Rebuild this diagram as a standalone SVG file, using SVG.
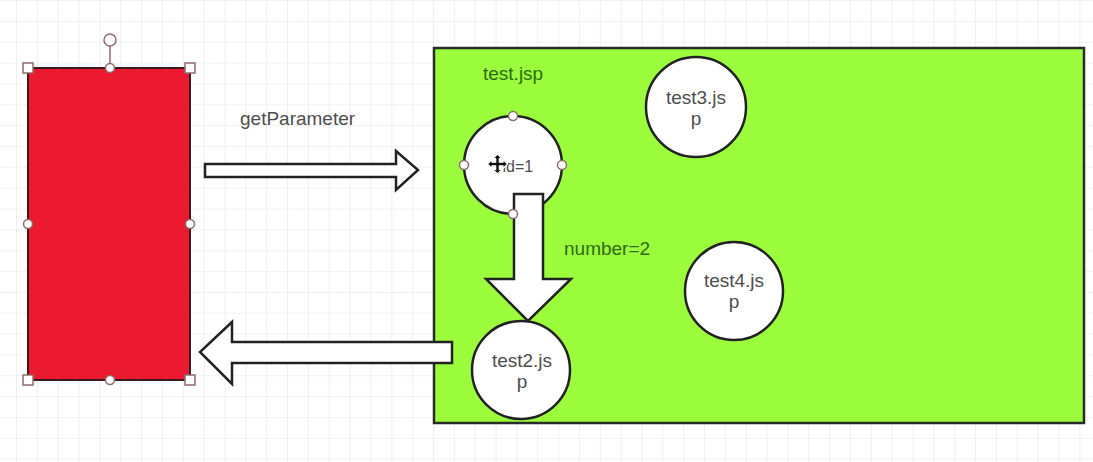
<svg xmlns="http://www.w3.org/2000/svg" width="1093" height="462" viewBox="0 0 1093 462">
  <defs>
    <pattern id="grid" width="20.85" height="20.85" patternUnits="userSpaceOnUse" x="16" y="0">
      <path d="M 0 0 L 20.85 0 M 0 0 L 0 20.85" fill="none" stroke="#e4e4e4" stroke-width="1.2"/>
    </pattern>
    <style>
      .lbl { font-family: "Liberation Sans", Arial, sans-serif; font-size: 19px; fill: #4d4d4d; }
      .glbl { font-family: "Liberation Sans", Arial, sans-serif; font-size: 19px; fill: #2d6b14; }
      .node { fill: #ffffff; stroke: #222222; stroke-width: 2.5; }
      .arrow { fill: #ffffff; stroke: #222222; stroke-width: 2.5; stroke-linejoin: miter; }
      .hsq { fill: #ffffff; stroke: #8c6c6c; stroke-width: 1.5; }
      .hci { fill: #ffffff; stroke: #8c6c6c; stroke-width: 1.5; }
    </style>
  </defs>
  <rect x="0" y="0" width="1093" height="462" fill="#ffffff"/>
  <rect x="0" y="0" width="1093" height="462" fill="url(#grid)"/>

  <g id="container">
    <rect x="434" y="48" width="650" height="375" fill="#9bfd3c" stroke="#2b2b2b" stroke-width="2.5"/>
    <text class="glbl" x="483" y="80">test.jsp</text>
  </g>

  <g id="node-test1">
    <circle class="node" cx="513" cy="165" r="49"/>
    <text class="lbl" x="502.5" y="171.5" style="font-size:16px">id=1</text>
  </g>

  <g id="node-test3">
    <circle class="node" cx="696" cy="107" r="50"/>
    <text class="lbl" x="696" y="104" text-anchor="middle">test3.js</text>
    <text class="lbl" x="696" y="125" text-anchor="middle">p</text>
  </g>

  <g id="node-test4">
    <circle class="node" cx="734" cy="291" r="49"/>
    <text class="lbl" x="734" y="287" text-anchor="middle">test4.js</text>
    <text class="lbl" x="734" y="308" text-anchor="middle">p</text>
  </g>

  <g id="node-test2">
    <circle class="node" cx="521" cy="370" r="49"/>
    <text class="lbl" x="522" y="367" text-anchor="middle">test2.js</text>
    <text class="lbl" x="522" y="388" text-anchor="middle">p</text>
  </g>

  <g id="connectors">
    <polygon class="arrow" points="205,164 396,164 396,151 418,170 396,190 396,177 205,177"/>
    <text class="lbl" x="240" y="125">getParameter</text>
    <polygon class="arrow" points="514,194 543,194 543,279 571,279 528,321 486,279 514,279"/>
    <text class="glbl" x="564" y="255">number=2</text>
    <polygon class="arrow" points="452,342 232,342 232,322 200,352 232,384 232,363 452,363"/>
  </g>

  <g id="selection-test1">
    <circle class="hci" cx="513" cy="116" r="4.5"/>
    <circle class="hci" cx="464" cy="165" r="4.5"/>
    <circle class="hci" cx="562" cy="165" r="4.5"/>
    <circle class="hci" cx="513" cy="214" r="4.5"/>
    <polygon transform="translate(497.5,164)" fill="#111111" stroke="#ffffff" stroke-width="1.2" stroke-linejoin="round" points="0,-10 4.5,-5.5 1.8,-5.5 1.8,-1.8 5.5,-1.8 5.5,-4.5 10,0 5.5,4.5 5.5,1.8 1.8,1.8 1.8,5.5 4.5,5.5 0,10 -4.5,5.5 -1.8,5.5 -1.8,1.8 -5.5,1.8 -5.5,4.5 -10,0 -5.5,-4.5 -5.5,-1.8 -1.8,-1.8 -1.8,-5.5 -4.5,-5.5"/>
  </g>

  <g id="node-client">
    <rect x="28" y="68" width="162" height="312" fill="#ec1a30" stroke="#3a1a1a" stroke-width="2"/>
    <line x1="110" y1="68" x2="110" y2="46" stroke="#8c6c6c" stroke-width="1.5"/>
    <circle class="hci" cx="110" cy="40" r="6"/>
    <rect class="hsq" x="23" y="63" width="10" height="10"/>
    <rect class="hsq" x="185" y="63" width="10" height="10"/>
    <rect class="hsq" x="23" y="375" width="10" height="10"/>
    <rect class="hsq" x="185" y="375" width="10" height="10"/>
    <circle class="hci" cx="110" cy="68" r="4.5"/>
    <circle class="hci" cx="110" cy="380" r="4.5"/>
    <circle class="hci" cx="28" cy="224" r="4.5"/>
    <circle class="hci" cx="190" cy="224" r="4.5"/>
  </g>
</svg>
